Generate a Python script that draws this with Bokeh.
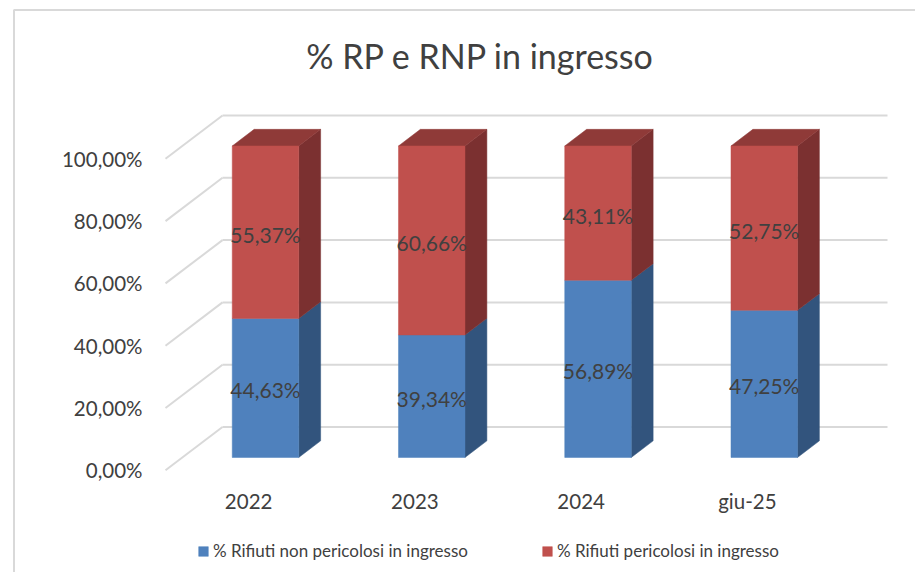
from bokeh.plotting import figure
from bokeh.models import Range1d, Legend, LegendItem, ColumnDataSource
from bokeh.core.properties import value
from bokeh.embed import file_html
from bokeh.resources import INLINE

# ---------------- data ----------------
categories = ["2022", "2023", "2024", "giu-25"]
non_pericolosi = [44.63, 39.34, 56.89, 47.25]
pericolosi = [55.37, 60.66, 43.11, 52.75]
y_ticks = [0, 20, 40, 60, 80, 100]
y_tick_labels = ["0,00%", "20,00%", "40,00%", "60,00%", "80,00%", "100,00%"]
series_names = ["% Rifiuti non pericolosi in ingresso", "% Rifiuti pericolosi in ingresso"]
title_text = "% RP e RNP in ingresso"

# ---------------- layout ----------------
W, H = 915, 572
ORIGIN_X, ORIGIN_Y = 165.0, 469.8     # canvas px of the front-left floor corner (value 0)
PX_CAT = 166.25                        # px per category
PX_PCT = 3.115                         # px per percent
DEPTH_PX = (57.0, 43.3)                # oblique depth of the walls
D0, D1 = 0.296, 0.68                   # bar front / back depth fraction
HALF_W = 0.2                           # half bar width (category units)
FONT = "Lato"
TXT = "#404040"
GRID = "#d9d9d9"

def px_to_x(px):
    return (px - ORIGIN_X) / PX_CAT

def px_to_y(py):
    return (ORIGIN_Y - py) / PX_PCT

x_range = Range1d(px_to_x(0), px_to_x(W))
y_range = Range1d(px_to_y(H), px_to_y(0))
DX = DEPTH_PX[0] / PX_CAT
DY = DEPTH_PX[1] / PX_PCT
n = len(categories)

p = figure(width=W, height=H, x_range=x_range, y_range=y_range,
           output_backend="svg", toolbar_location=None,
           x_axis_location=None, y_axis_location=None, min_border=0)
p.outline_line_color = None
p.background_fill_color = "white"
p.border_fill_color = "white"
p.xgrid.visible = False
p.ygrid.visible = False

# chart-area border (top and left visible)
bx, by = px_to_x(13.5), px_to_y(9.5)
p.line([bx, bx, px_to_x(W + 40)], [px_to_y(H + 40), by, by], line_color=GRID, line_width=2)

# back wall gridlines and side wall diagonals
p.segment(x0=[DX] * len(y_ticks), y0=[v + DY for v in y_ticks],
          x1=[n + DX] * len(y_ticks), y1=[v + DY for v in y_ticks],
          line_color=GRID, line_width=2)
p.segment(x0=[0] * len(y_ticks), y0=y_ticks,
          x1=[DX] * len(y_ticks), y1=[v + DY for v in y_ticks],
          line_color=GRID, line_width=2)

# tick labels
p.text(x=[0] * len(y_ticks), y=y_ticks, text=y_tick_labels, x_offset=-23,
       text_align="right", text_baseline="middle", text_color=TXT,
       text_font=value(FONT), text_font_size="20.5px")

# category labels
centers = [i + 0.5 for i in range(n)]
p.text(x=centers, y=[0] * n, text=categories, y_offset=31,
       text_align="center", text_baseline="middle", text_color=TXT,
       text_font=value(FONT), text_font_size="20.5px")

# bars
series = [
    (non_pericolosi, "#4f81bd", "#32547d", "#3d6796"),
    (pericolosi, "#c0504d", "#7b3030", "#8f3a38"),
]
front_renderers = []
bottoms = [0.0] * n
for si, (vals, c_front, c_side, c_top) in enumerate(series):
    tops = [b + v for b, v in zip(bottoms, vals)]
    L0 = [c - HALF_W + D0 * DX for c in centers]
    R0 = [c + HALF_W + D0 * DX for c in centers]
    L1 = [c - HALF_W + D1 * DX for c in centers]
    R1 = [c + HALF_W + D1 * DX for c in centers]
    side_xs = [[r0, r1, r1, r0] for r0, r1 in zip(R0, R1)]
    side_ys = [[b + D0 * DY, b + D1 * DY, t + D1 * DY, t + D0 * DY] for b, t in zip(bottoms, tops)]
    p.patches(side_xs, side_ys, fill_color=c_side, line_color=c_side, line_width=0.5)
    if si == len(series) - 1:
        top_xs = [[l0, r0, r1, l1] for l0, r0, r1, l1 in zip(L0, R0, R1, L1)]
        top_ys = [[t + D0 * DY, t + D0 * DY, t + D1 * DY, t + D1 * DY] for t in tops]
        p.patches(top_xs, top_ys, fill_color=c_top, line_color=c_top, line_width=0.5)
    src = ColumnDataSource(dict(left=L0, right=R0,
                                bottom=[b + D0 * DY for b in bottoms],
                                top=[t + D0 * DY for t in tops]))
    r = p.quad(left="left", right="right", bottom="bottom", top="top", source=src,
               fill_color=c_front, line_color=c_front, line_width=0.5)
    front_renderers.append(r)
    # data labels
    p.text(x=[c + D0 * DX for c in centers],
           y=[(b + t) / 2 + D0 * DY for b, t in zip(bottoms, tops)],
           text=[f"{v:.2f}%".replace(".", ",") for v in vals], y_offset=2,
           text_align="center", text_baseline="middle", text_color=TXT,
           text_font=value(FONT), text_font_size="21px")
    bottoms = tops

# title
p.text(x=[px_to_x(480)], y=[px_to_y(55)], text=[title_text],
       text_align="center", text_baseline="middle", text_color=TXT,
       text_font=value(FONT), text_font_size="34px")

# legend
legend = Legend(items=[LegendItem(label=series_names[i], renderers=[front_renderers[i]])
                       for i in range(len(series_names))],
                orientation="horizontal", location=(197, 11),
                glyph_width=12, glyph_height=12, label_standoff=4,
                label_width=328, spacing=0, padding=0, margin=0,
                label_height=20, border_line_color=None,
                background_fill_alpha=0,
                label_text_font=FONT, label_text_font_size="17px",
                label_text_color=TXT)
p.add_layout(legend)

open("out.html", "w").write(file_html(p, INLINE))
